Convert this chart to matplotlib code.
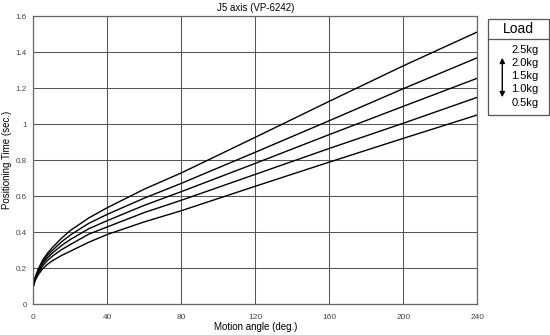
import matplotlib
matplotlib.use("Agg")
import matplotlib.pyplot as plt
from matplotlib.patches import Rectangle, FancyArrowPatch

plt.rcParams['font.family'] = ['Liberation Sans', 'DejaVu Sans']

angle = [0, 1, 2.5, 5, 7.5, 10, 15, 20, 30, 40, 60, 80, 120, 160, 200, 240]
t_25 = [0.10, 0.150, 0.192, 0.245, 0.282, 0.312, 0.365, 0.410, 0.480, 0.537, 0.640, 0.730, 0.928, 1.128, 1.325, 1.513]
t_20 = [0.10, 0.146, 0.186, 0.236, 0.270, 0.297, 0.345, 0.385, 0.450, 0.500, 0.590, 0.672, 0.845, 1.020, 1.198, 1.370]
t_15 = [0.10, 0.142, 0.179, 0.226, 0.257, 0.282, 0.325, 0.360, 0.420, 0.465, 0.550, 0.626, 0.783, 0.943, 1.100, 1.256]
t_10 = [0.10, 0.138, 0.172, 0.213, 0.242, 0.265, 0.302, 0.332, 0.390, 0.430, 0.510, 0.578, 0.722, 0.866, 1.006, 1.150]
t_05 = [0.10, 0.133, 0.162, 0.197, 0.221, 0.240, 0.270, 0.295, 0.345, 0.388, 0.458, 0.520, 0.656, 0.790, 0.922, 1.052]
series = [t_25, t_20, t_15, t_10, t_05]
loads = ["2.5kg", "2.0kg", "1.5kg", "1.0kg", "0.5kg"]
xticks = [0, 40, 80, 120, 160, 200, 240]
yticks = [0, 0.2, 0.4, 0.6, 0.8, 1.0, 1.2, 1.4, 1.6]
yticklabels = ["0", "0.2", "0.4", "0.6", "0.8", "1", "1.2", "1.4", "1.6"]

fig = plt.figure(figsize=(5.5, 3.35), dpi=100)
ax = fig.add_axes([0.0606, 0.0916, 0.8072, 0.8597])
for s in series:
    ax.plot(angle, s, color='black', lw=1.0, solid_capstyle='butt')
ax.set_xlim(0, 240)
ax.set_ylim(0, 1.6)
ax.set_xticks(xticks)
ax.set_yticks(yticks)
ax.set_yticklabels(yticklabels)
ax.grid(True, color='#555555', lw=0.75)
ax.set_axisbelow(True)
for sp in ax.spines.values():
    sp.set_color('#666666')
    sp.set_linewidth(0.9)
ax.tick_params(axis='x', length=0, labelsize=6.0, colors='#444444', pad=7)
ax.tick_params(axis='y', length=0, labelsize=5.8, colors='#444444', pad=4.5)
ax.set_xlabel("Motion angle (deg.)", fontsize=7)
ax.xaxis.set_label_coords(0.5, -0.062)
ax.set_ylabel("Positioning Time (sec.)", fontsize=7)
ax.yaxis.set_label_coords(-0.049, 0.5)
ax.set_title("J5 axis (VP-6242)", fontsize=7, pad=4)

# Legend box
def px(x, y):
    return (x / 550.0, 1 - y / 335.0)

x0, y0 = px(487.5, 114.5)
x1, y1 = px(549, 19.5)
fig.add_artist(Rectangle((x0, y0), x1 - x0, y1 - y0, transform=fig.transFigure,
                         fill=False, edgecolor='#555555', lw=0.9))
sx, sy = px(487.5, 38.5)
fig.add_artist(plt.Line2D([x0, x1], [sy, sy], transform=fig.transFigure, color='#555555', lw=0.9))
lx, ly = px(518.5, 29)
fig.text(lx, ly, "Load", fontsize=10, ha='center', va='center')
ys = [50, 63, 76, 89.5, 103]
for lab, yy in zip(loads, ys):
    tx, ty = px(511.5, yy)
    fig.text(tx, ty, lab, fontsize=8, ha='left', va='center')
a0 = px(502.3, 55)
a1 = px(502.3, 100)
fig.add_artist(FancyArrowPatch(a1, a0, transform=fig.transFigure, arrowstyle='<|-|>,head_length=3,head_width=1.5',
                               color='black', lw=1.0, mutation_scale=1))

fig.savefig("out.png", dpi=100)
